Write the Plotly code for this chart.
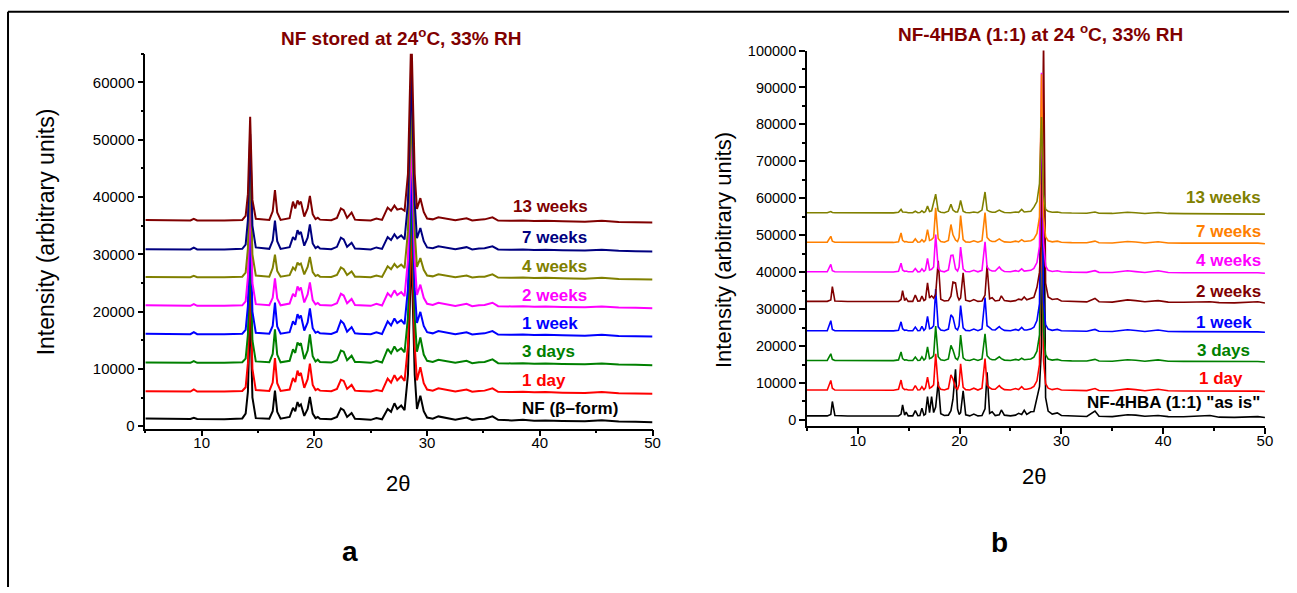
import plotly.graph_objects as go

W, H = 1297, 593

# ---------------- Panel a: NF stored at 24 C, 33% RH ----------------
two_theta_a = [5.0, 7.0, 9.0, 9.3, 9.6, 12.0, 13.6, 13.9, 14.1, 14.3, 14.5, 14.8, 16.0, 16.3, 16.5, 16.7,
               17.0, 17.8, 18.1, 18.3, 18.5, 18.65, 18.8, 19.1, 19.4, 19.6, 19.85, 20.1, 20.3, 20.5, 21.5,
               22.0, 22.35, 22.6, 22.9, 23.3, 23.6, 24.0, 25.0, 25.5, 26.0, 26.5, 26.8, 27.1, 27.35, 27.7,
               28.0, 28.3, 28.6, 28.9, 29.1, 29.4, 29.7, 30.0, 30.5, 31.0, 31.6, 32.5, 33.5, 34.0, 34.6,
               35.1, 35.8, 36.3, 37.5, 38.5, 39.5, 40.5, 42.0, 44.0, 45.5, 47.0, 48.5, 50.0]

a_nf_beta = [1350, 1300, 1250, 1450, 1250, 1200, 1350, 2200, 6000, 21000, 5000, 1400, 1300, 2600, 6200, 2500,
             1300, 1600, 3200, 2600, 4200, 3500, 3800, 1800, 3000, 5100, 2200, 1400, 1600, 1300, 1200,
             1600, 3100, 2800, 1600, 2300, 1300, 1250, 1100, 1400, 1200, 3000, 2500, 4000, 3000, 3600,
             2800, 9000, 31000, 9000, 3000, 5300, 2600, 1500, 1300, 1700, 1500, 1100, 1500, 1100, 1250,
             1300, 1700, 1100, 1000, 1100, 950, 1000, 900, 850, 1050, 800, 750, 700]
a_1day = [1100, 1100, 1050, 1400, 1050, 1050, 1150, 1800, 6000, 21000, 5000, 1300, 1150, 2600, 6900, 2500,
          1150, 1400, 3400, 2700, 4700, 3800, 4300, 1700, 3200, 5900, 2200, 1300, 1500, 1200, 1100,
          1500, 3100, 2900, 1500, 2200, 1200, 1150, 1050, 1300, 1100, 3300, 2600, 3900, 3000, 3700,
          2900, 9000, 31000, 9000, 3000, 5300, 2500, 1400, 1200, 1600, 1400, 1050, 1400, 1000, 1150,
          1200, 1600, 1000, 950, 1000, 900, 950, 850, 800, 950, 750, 700, 650]
a_3days = [1100, 1100, 1050, 1350, 1050, 1050, 1150, 1800, 6000, 21000, 5000, 1300, 1150, 2600, 6900, 2500,
           1150, 1400, 3400, 2800, 4600, 4200, 4500, 1700, 3200, 6000, 2200, 1300, 1600, 1200, 1100,
           1500, 3200, 3000, 1500, 2300, 1200, 1200, 1050, 1400, 1100, 3500, 2700, 3900, 3100, 3600,
           2900, 9000, 31000, 9000, 3000, 5500, 2500, 1400, 1200, 1600, 1400, 1050, 1400, 1000, 1150,
           1200, 1650, 1000, 950, 1000, 900, 950, 850, 800, 950, 750, 700, 650]
a_1week = [1150, 1100, 1050, 1400, 1050, 1050, 1150, 1800, 6000, 21000, 5000, 1300, 1150, 2500, 6550, 2400,
           1150, 1400, 3300, 2700, 4550, 3900, 4300, 1700, 3100, 5550, 2100, 1300, 1500, 1200, 1100,
           1500, 3400, 2900, 1500, 2300, 1200, 1150, 1050, 1400, 1100, 3300, 2600, 3800, 3000, 3500,
           2800, 9000, 31000, 9000, 3000, 4950, 2500, 1400, 1200, 1600, 1400, 1050, 1400, 1000, 1150,
           1200, 1600, 1000, 950, 1000, 900, 950, 850, 800, 950, 750, 700, 650]
a_2weeks = [1100, 1050, 1000, 1300, 1000, 1000, 1100, 1800, 6000, 21000, 5000, 1300, 1100, 2400, 5800, 2300,
            1100, 1400, 3100, 2600, 4400, 3800, 4200, 1600, 3000, 5100, 2000, 1250, 1500, 1150, 1050,
            1450, 3100, 2800, 1450, 2200, 1150, 1100, 1000, 1350, 1050, 3200, 2600, 3700, 2900, 3400,
            2700, 9000, 31000, 9000, 2900, 4700, 2400, 1350, 1150, 1550, 1350, 1000, 1350, 950, 1100,
            1150, 1550, 950, 900, 950, 850, 900, 800, 750, 900, 700, 650, 600]
a_4weeks = [1050, 1050, 1000, 1250, 1000, 1000, 1100, 1800, 6000, 21000, 5000, 1300, 1100, 2600, 4950, 2100,
            1100, 1350, 2700, 2300, 3550, 3200, 3400, 1500, 2800, 4550, 1900, 1200, 1400, 1100, 1050,
            1400, 2700, 2400, 1400, 2000, 1100, 1100, 1000, 1300, 1050, 2900, 2400, 3300, 2700, 3200,
            2600, 9000, 31000, 9000, 2800, 4350, 2300, 1300, 1150, 1500, 1300, 1000, 1300, 950, 1100,
            1100, 1500, 950, 900, 950, 850, 900, 800, 750, 900, 700, 650, 600]
a_7weeks = [900, 900, 850, 1150, 850, 850, 950, 1700, 6000, 21000, 5000, 1200, 950, 2400, 5900, 2300,
            950, 1250, 3000, 2500, 4200, 3600, 3900, 1500, 2900, 5200, 1900, 1100, 1350, 1000, 900,
            1300, 2900, 2600, 1300, 2000, 1000, 950, 850, 1200, 950, 3000, 2500, 3500, 2800, 3300,
            2600, 9000, 32000, 9000, 2800, 4600, 2300, 1200, 1050, 1400, 1250, 900, 1250, 850, 1000,
            1050, 1400, 850, 800, 850, 750, 800, 700, 650, 800, 600, 550, 500]
a_13weeks = [1000, 950, 900, 1200, 900, 900, 1000, 1700, 5500, 19000, 4500, 1200, 1000, 2500, 6200, 2300,
             1000, 1300, 4200, 3000, 4400, 3800, 4200, 1600, 3000, 5200, 2000, 1150, 1400, 1050, 950,
             1350, 3000, 2700, 1350, 2300, 1050, 1000, 900, 1250, 1000, 3150, 2600, 3500, 2800, 3000,
             2600, 9000, 34000, 9000, 2900, 4800, 2400, 1250, 1100, 1450, 1300, 950, 1300, 900, 1050,
             1100, 1450, 900, 850, 900, 800, 850, 750, 700, 850, 650, 600, 550]

labels_a = ["NF (\u03b2\u2013form)", "1 day", "3 days", "1 week", "2 weeks", "4 weeks", "7 weeks", "13 weeks"]
colors_a = ["#000000", "#FF0000", "#008000", "#0000FF", "#FF00FF", "#808000", "#000080", "#800000"]
offsets_a = [0, 5000, 10000, 15000, 20000, 25000, 30000, 35000]
series_a = [a_nf_beta, a_1day, a_3days, a_1week, a_2weeks, a_4weeks, a_7weeks, a_13weeks]
label_x_a = [38.26, 38.26, 38.26, 38.26, 38.26, 38.26, 38.26, 37.46]
label_y_a = [3090, 7990, 13060, 17950, 22850, 27950, 33000, 38400]

# ---------------- Panel b: NF-4HBA (1:1) at 24 C, 33% RH ----------------
two_theta_b = [5.0, 7.0, 7.35, 7.5, 7.75, 9.0, 11.0, 13.5, 14.0, 14.25, 14.4, 14.6, 14.75, 14.95, 15.4, 15.65,
               15.9, 16.1, 16.3, 16.5, 16.65, 16.85, 17.05, 17.25, 17.45, 17.65, 17.9, 18.15, 18.5, 18.9,
               19.15, 19.35, 19.6, 19.8, 19.95, 20.1, 20.35, 20.6, 21.0, 21.4, 21.8, 22.2, 22.5, 22.7,
               22.95, 23.2, 23.5, 23.9, 24.1, 24.4, 25.0, 25.5, 25.8, 26.1, 26.35, 26.6, 27.0, 27.3, 27.6,
               27.85, 28.05, 28.25, 28.45, 28.7, 29.1, 29.6, 30.0, 31.0, 32.5, 33.3, 33.7, 35.0, 35.7, 36.5,
               37.3, 38.2, 39.5, 40.5, 42.0, 44.6, 45.5, 47.0, 49.3, 50.0]

b_as_is = [1100, 1100, 1500, 5000, 1200, 1050, 1050, 1050, 1100, 1600, 4100, 1300, 2100, 1100, 1100, 2500,
           1150, 1200, 3200, 1300, 1600, 6300, 2000, 6300, 2000, 3500, 10300, 1700, 1200, 1300,
           2500, 5600, 13700, 3000, 1500, 2000, 7900, 1400, 1100, 1600, 1100, 1200, 3000, 12900,
           1800, 2200, 1200, 1400, 2700, 1300, 1100, 1300, 1800, 1500, 2600, 1500, 2200, 2300, 6000,
           9000, 20000, 80000, 6000, 2400, 1600, 1900, 1200, 1100, 950, 2400, 1000, 900, 1200, 1400,
           1300, 1000, 1200, 900, 850, 1200, 750, 700, 900, 650]
b_1day = [1100, 1100, 3700, 1600, 1100, 1050, 1050, 1050, 1300, 3800, 1700, 1200, 1300, 1100, 1100, 2300,
          1100, 1150, 2000, 1200, 1700, 4600, 1600, 1900, 2500, 10900, 2200, 1300, 1100, 1500,
          5200, 4100, 1800, 1300, 2500, 8200, 1800, 1200, 1100, 1600, 1100, 1600, 9600, 2500,
          1700, 1300, 1300, 2300, 1700, 1200, 1100, 1500, 1200, 2000, 1300, 1300, 1600, 2100, 3600,
          8000, 61000, 9000, 2800, 1600, 1200, 1500, 1100, 1000, 950, 1500, 950, 900, 1100, 1400,
          1200, 900, 1300, 900, 850, 900, 800, 750, 800, 700]
b_3days = [1100, 1100, 2900, 1400, 1100, 1050, 1050, 1050, 1250, 3400, 1600, 1200, 1300, 1100, 1100, 2000,
           1100, 1150, 2100, 1200, 1600, 4800, 1600, 1800, 2400, 10400, 2100, 1300, 1100, 1500,
           5200, 3900, 1700, 1300, 2400, 8000, 1800, 1200, 1100, 1500, 1100, 1500, 8300, 2400,
           1600, 1300, 1300, 2100, 1600, 1200, 1100, 1400, 1200, 1700, 1300, 1300, 1500, 2000, 3600,
           8000, 61000, 9000, 2700, 1500, 1200, 1400, 1100, 1000, 950, 1400, 950, 900, 1050, 1300,
           1150, 900, 1250, 900, 850, 900, 800, 750, 800, 700]
b_1week = [1150, 1150, 3850, 1500, 1150, 1100, 1100, 1100, 1300, 3550, 1700, 1250, 1350, 1150, 1150, 2150,
           1150, 1200, 2350, 1250, 1700, 5050, 1700, 1900, 2500, 12450, 2200, 1350, 1150, 1600,
           5450, 4750, 1800, 1350, 2500, 7950, 1900, 1250, 1150, 1600, 1150, 1600, 10150, 2500,
           2000, 1400, 1350, 2250, 1700, 1250, 1150, 1500, 1250, 2050, 1350, 1350, 1600, 2100, 3900,
           8500, 61000, 9000, 2800, 1600, 1250, 1500, 1150, 1050, 1000, 1500, 1000, 950, 1100, 1400,
           1200, 950, 1350, 950, 900, 950, 850, 800, 850, 750]
b_2weeks = [1100, 1100, 1500, 5100, 1200, 1050, 1050, 1050, 1100, 1600, 4000, 1300, 1900, 1100, 1100, 2800,
            1150, 1200, 2500, 1300, 1600, 6100, 2000, 2600, 2000, 3000, 12100, 1700, 1200, 1300,
            2500, 6300, 6100, 2500, 1500, 2000, 8800, 1400, 1100, 1600, 1100, 1200, 2800, 10800,
            1800, 2100, 1200, 1400, 2600, 1300, 1100, 1300, 1700, 1500, 2300, 1500, 2000, 2200, 4900,
            9000, 20000, 72000, 6000, 2300, 1600, 1800, 1200, 1100, 950, 1900, 1000, 900, 1200, 1500,
            1300, 1000, 1300, 900, 850, 1000, 750, 700, 1000, 650]
b_4weeks = [1100, 1100, 3100, 1400, 1100, 1050, 1050, 1050, 1250, 3400, 1600, 1200, 1300, 1100, 1100, 2000,
            1100, 1150, 1900, 1200, 1600, 4700, 1600, 1800, 2400, 11200, 2100, 1300, 1100, 1600,
            5500, 5600, 1900, 1300, 2400, 7800, 1800, 1200, 1100, 1500, 1100, 1500, 9200, 2400,
            1600, 1300, 1300, 2400, 1700, 1200, 1100, 1400, 1200, 1900, 1300, 1300, 1500, 2000, 3600,
            8000, 55000, 9000, 2700, 1500, 1200, 1400, 1100, 1000, 950, 1400, 950, 900, 1050, 1400,
            1150, 900, 1400, 900, 850, 900, 800, 750, 850, 700]
b_7weeks = [1100, 1100, 2700, 1400, 1100, 1050, 1050, 1050, 1250, 3600, 1600, 1200, 1300, 1100, 1100, 2000,
            1100, 1150, 1800, 1200, 1600, 4500, 1600, 1800, 2400, 10400, 2100, 1300, 1100, 1600,
            5900, 3100, 1700, 1300, 2400, 8300, 1800, 1200, 1100, 1500, 1100, 1500, 9100, 2400,
            1600, 1300, 1300, 2000, 1600, 1200, 1100, 1400, 1200, 1800, 1300, 1300, 1500, 2000, 3500,
            8000, 46600, 8000, 2600, 1500, 1200, 1400, 1100, 1000, 950, 1400, 950, 900, 1050, 1300,
            1150, 900, 1250, 900, 850, 900, 800, 750, 850, 700]
b_13weeks = [1100, 1100, 1400, 1150, 1100, 1050, 1050, 1050, 1200, 2000, 1300, 1150, 1200, 1100, 1100, 1500,
             1100, 1150, 1600, 1150, 1400, 2900, 1400, 1600, 3500, 6100, 1600, 1200, 1100, 1500,
             3400, 1800, 1300, 1300, 2500, 4400, 1500, 1150, 1100, 1300, 1100, 1800, 6700, 1800,
             1400, 1200, 1200, 1800, 1500, 1150, 1100, 1300, 1200, 2000, 1300, 1300, 1500, 2600, 4100,
             9000, 27000, 6000, 2000, 1500, 1200, 1300, 1100, 1000, 950, 1300, 950, 900, 1050, 1200,
             1100, 900, 1150, 900, 850, 850, 800, 750, 800, 700]

labels_b = ["NF-4HBA (1:1) \"as is\"", "1 day", "3 days", "1 week", "2 weeks", "4 weeks", "7 weeks", "13 weeks"]
colors_b = ["#000000", "#FF0000", "#008000", "#0000FF", "#800000", "#FF00FF", "#FF8000", "#808000"]
offsets_b = [0, 7000, 15000, 23000, 31000, 39000, 47000, 55000]
series_b = [b_as_is, b_1day, b_3days, b_1week, b_2weeks, b_4weeks, b_7weeks, b_13weeks]
label_x_b = [49.7, 48.0, 48.7, 48.9, 49.8, 49.8, 49.8, 49.8]
label_y_b = [4600, 11200, 18800, 26400, 34800, 43200, 51100, 60300]

# ---------------- Figure ----------------
fig = go.Figure()

for ys, off, col, name in zip(series_a, offsets_a, colors_a, labels_a):
    fig.add_trace(go.Scatter(x=two_theta_a, y=[v + off for v in ys], mode="lines",
                             line=dict(color=col, width=2), name=name,
                             xaxis="x", yaxis="y", showlegend=False, hoverinfo="skip"))
for ys, off, col, name in zip(series_b, offsets_b, colors_b, labels_b):
    fig.add_trace(go.Scatter(x=two_theta_b, y=[v + off for v in ys], mode="lines",
                             line=dict(color=col, width=1.6), name=name,
                             xaxis="x2", yaxis="y2", showlegend=False, hoverinfo="skip"))

# layout positions (target pixels in the 1297x593 picture) -> paper fractions
def px_x(p):
    return (p / 0.9915) / W

def px_y(p):
    return 1 - ((p - 8.3) / 0.974) / H

FONT = "Liberation Sans, Arial, sans-serif"
axis_common = dict(showline=True, linecolor="black", linewidth=1.5, ticks="outside",
                   tickcolor="black", tickwidth=1.5, showgrid=False, zeroline=False)
minor_x = dict(dtick=5, tick0=0, ticks="outside", ticklen=3, tickcolor="black", tickwidth=1.5)
minor_y = dict(dtick=5000, tick0=0, ticks="outside", ticklen=3, tickcolor="black", tickwidth=1.5)

fig.update_layout(
    width=W, height=H, margin=dict(l=0, r=0, t=0, b=0),
    paper_bgcolor="white", plot_bgcolor="white", showlegend=False,
    xaxis=dict(domain=[px_x(145), px_x(651)], range=[5, 50], tick0=0, dtick=10, ticklen=6,
               minor=minor_x, anchor="y", ticklabelstandoff=-6,
               tickfont=dict(family=FONT, size=15, color="black"), **axis_common),
    yaxis=dict(domain=[px_y(428), px_y(54)], range=[-450, 65000], tick0=0, dtick=10000, ticklen=6,
               tickformat="d", minor=minor_y, anchor="x",
               tickfont=dict(family=FONT, size=15, color="black"), **axis_common),
    xaxis2=dict(domain=[px_x(805), px_x(1262)], range=[5, 50], tick0=0, dtick=10, ticklen=6,
                minor=minor_x, anchor="y2", ticklabelstandoff=-6,
                tickfont=dict(family=FONT, size=15, color="black"), **axis_common),
    yaxis2=dict(domain=[px_y(425.5), px_y(50.7)], range=[-1700, 100000], tick0=0, dtick=10000, ticklen=6,
                tickformat="d", minor=minor_y, anchor="x2",
                tickfont=dict(family=FONT, size=14.5, color="black"), **axis_common),
)

annotations = []
for lx, ly, col, name in zip(label_x_a, label_y_a, colors_a, labels_a):
    annotations.append(dict(x=lx, y=ly, xref="x", yref="y", text="<b>" + name + "</b>",
                            showarrow=False, xanchor="left", yanchor="middle",
                            font=dict(family=FONT, size=17, color=col)))
for lx, ly, col, name in zip(label_x_b, label_y_b, colors_b, labels_b):
    annotations.append(dict(x=lx, y=ly, xref="x2", yref="y2", text="<b>" + name + "</b>",
                            showarrow=False, xanchor="right", yanchor="middle",
                            font=dict(family=FONT, size=17, color=col)))

title_font = dict(family=FONT, size=19, color="#800000")
annotations.append(dict(x=px_x(400), y=px_y(37), xref="paper", yref="paper", showarrow=False,
                        text="<b>NF stored at 24<sup>o</sup>C, 33% RH</b>", font=title_font,
                        xanchor="center", yanchor="middle"))
annotations.append(dict(x=px_x(1038), y=px_y(33), xref="paper", yref="paper", showarrow=False,
                        text="<b>NF-4HBA (1:1) at 24 <sup>o</sup>C, 33% RH</b>", font=title_font,
                        xanchor="center", yanchor="middle"))

annotations.append(dict(x=px_x(46), y=px_y(232), xref="paper", yref="paper", showarrow=False,
                        text="Intensity (arbitrary units)", textangle=-90,
                        font=dict(family=FONT, size=23, color="black"),
                        xanchor="center", yanchor="middle"))
annotations.append(dict(x=px_x(722), y=px_y(250), xref="paper", yref="paper", showarrow=False,
                        text="Intensity (arbitrary units)", textangle=-90,
                        font=dict(family=FONT, size=22, color="black"),
                        xanchor="center", yanchor="middle"))
xtitle_font = dict(family=FONT, size=22, color="black")
annotations.append(dict(x=px_x(397), y=px_y(483), xref="paper", yref="paper", showarrow=False,
                        text="2\u03b8", font=xtitle_font, xanchor="center", yanchor="middle"))
annotations.append(dict(x=px_x(1032), y=px_y(476), xref="paper", yref="paper", showarrow=False,
                        text="2\u03b8", font=xtitle_font, xanchor="center", yanchor="middle"))
panel_font = dict(family=FONT, size=28, color="black")
annotations.append(dict(x=px_x(349), y=px_y(550), xref="paper", yref="paper", showarrow=False,
                        text="<b>a</b>", font=panel_font, xanchor="center", yanchor="middle"))
annotations.append(dict(x=px_x(997), y=px_y(541), xref="paper", yref="paper", showarrow=False,
                        text="<b>b</b>", font=panel_font, xanchor="center", yanchor="middle"))
fig.update_layout(annotations=annotations)

# outer frame (top and left edges only)
fig.add_shape(type="line", xref="paper", yref="paper", x0=px_x(8), x1=1.0, y0=px_y(12), y1=px_y(12),
              line=dict(color="black", width=2))
fig.add_shape(type="line", xref="paper", yref="paper", x0=px_x(8), x1=px_x(8), y0=0, y1=px_y(12),
              line=dict(color="black", width=2))

fig.write_html("out.html", config={"displayModeBar": False},
               post_script="document.body.style.margin='0px';")
